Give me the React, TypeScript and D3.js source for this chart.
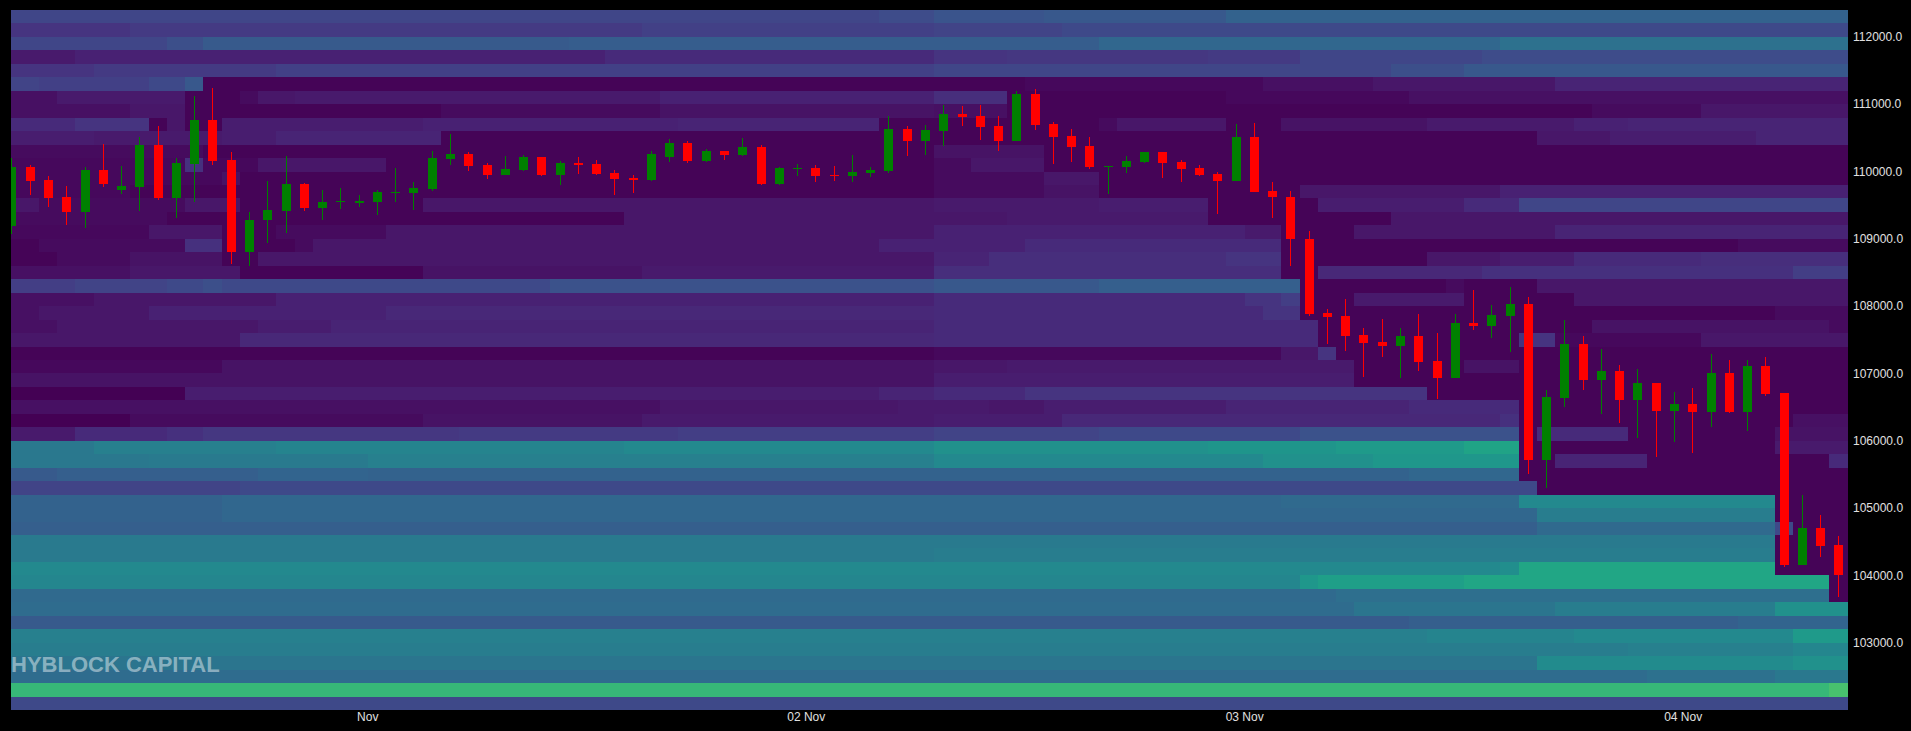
import React from "react";
import * as d3 from "d3";

// ---- time axis (hourly candles) ----
const START = "2025-10-31T04:00:00Z";
const HOURS = 101;
const xTickDays = ["2025-11-01", "2025-11-02", "2025-11-03", "2025-11-04"];

// ---- price axis ----
const PRICE_MIN = 102000;
const PRICE_MAX = 112400;
const BIN = 200;
const yTicks = [103000, 104000, 105000, 106000, 107000, 108000, 109000, 110000, 111000, 112000];

// ---- hourly OHLC ----
const candleOpen = [
  109186, 110068, 109874, 109622, 109404, 110018, 109726, 109771, 110395, 109607,
  110117, 110766, 110172, 108810, 109280, 109419, 109815, 109458, 109553, 109533,
  109548, 109681, 109681, 109741, 110191, 110261, 110102, 109954, 110023, 110216,
  109954, 110132, 110112, 109978, 109904, 109874, 110216, 110424, 110162, 110301,
  110251, 110360, 109820, 110038, 110053, 109954, 109939, 109983, 110003, 110632,
  110459, 110607, 110855, 110820, 110677, 110459, 111152, 110707, 110528, 110380,
  110068, 110072, 110147, 110291, 110147, 110053, 109969, 109865, 110513, 109716,
  109617, 108998, 107898, 107854, 107572, 107468, 107413, 107557, 107185, 106928,
  107750, 107710, 107859, 108032, 105714, 106640, 107438, 106903, 107036, 106606,
  106853, 106447, 106546, 106427, 107002, 106427, 107111, 106705, 104154, 104699,
  104452,
];
const candleHigh = [
  110201, 110100, 109929, 109781, 110068, 110409, 110082, 110508, 110677, 110201,
  111117, 111241, 110286, 109399, 109855, 110226, 109830, 109731, 109756, 109657,
  109731, 110053, 109845, 110310, 110563, 110286, 110127, 110236, 110251, 110221,
  110152, 110216, 110172, 110018, 109954, 110301, 110489, 110459, 110340, 110306,
  110498, 110400, 110068, 110112, 110102, 110078, 110251, 110063, 110820, 110682,
  110687, 110994, 110979, 110994, 110830, 111202, 111227, 110736, 110637, 110508,
  110085, 110226, 110295, 110295, 110172, 110102, 109994, 110711, 110721, 109850,
  109716, 109117, 107958, 108101, 107680, 107809, 107680, 107883, 107596, 107879,
  108240, 108017, 108290, 108131, 106754, 107794, 107557, 107358, 107126, 107066,
  106860, 106719, 106789, 107284, 107200, 107200, 107250, 106710, 105194, 104897,
  104585,
];
const candleLow = [
  109072, 109657, 109473, 109206, 109161, 109771, 109672, 109419, 109573, 109310,
  109543, 110092, 108627, 108602, 108934, 109082, 109419, 109285, 109439, 109474,
  109359, 109543, 109424, 109716, 110092, 110013, 109894, 109949, 110003, 109939,
  109805, 109969, 109954, 109647, 109682, 109855, 110142, 110127, 110142, 110177,
  110226, 109805, 109805, 109939, 109845, 109855, 109845, 109919, 109978, 110226,
  110251, 110375, 110672, 110464, 110300, 110449, 110622, 110112, 110142, 110043,
  109672, 109978, 110127, 109904, 109845, 109929, 109375, 109855, 109691, 109310,
  108602, 107858, 107438, 107339, 106952, 107240, 106938, 107042, 106616, 106928,
  107646, 107522, 107324, 105506, 105293, 106497, 106754, 106398, 106269, 106036,
  105754, 105977, 105813, 106209, 106420, 106145, 106670, 104130, 104150, 104278,
  103684,
];
const candleClose = [
  110063, 109865, 109612, 109404, 110018, 109820, 109786, 110395, 109607, 110127,
  110766, 110162, 108810, 109280, 109429, 109815, 109458, 109548, 109568, 109568,
  109701, 109696, 109751, 110201, 110261, 110087, 109954, 110038, 110216, 109954,
  110127, 110102, 109969, 109894, 109875, 110261, 110424, 110152, 110301, 110246,
  110360, 109820, 110053, 110053, 109939, 109939, 109993, 110023, 110632, 110459,
  110617, 110855, 110816, 110667, 110459, 111152, 110697, 110513, 110370, 110068,
  110082, 110157, 110291, 110127, 110043, 109954, 109865, 110513, 109701, 109617,
  108993, 107883, 107844, 107557, 107458, 107413, 107557, 107175, 106928, 107745,
  107710, 107869, 108032, 105714, 106645, 107438, 106903, 107036, 106606, 106853,
  106447, 106546, 106427, 107002, 106427, 107111, 106695, 104154, 104699, 104442,
  104006,
];

// ---- liquidation heatmap: one row per 200 USD price bin, from the top (112200-112400) down.
// each row is a run-length list of [last hourly column of the run, relative liquidation level 0-100]
const heatRows: [number, number][][] = [
  [[47, 21], [50, 23], [56, 26], [66, 27], [100, 31]],
  [[6, 15], [34, 17], [50, 19], [57, 20], [100, 22]],
  [[8, 21], [10, 24], [30, 28], [59, 29], [81, 33], [100, 37]],
  [[3, 7], [32, 9], [50, 12], [54, 15], [65, 16], [70, 17], [80, 21], [100, 23]],
  [[4, 15], [14, 17], [50, 19], [75, 21], [79, 24], [100, 27]],
  [[1, 20], [7, 19], [9, 22], [10, 27], [55, 1], [68, 2], [74, 4], [84, 6], [100, 10]],
  [[2, 4], [9, 7], [12, 1], [13, 3], [15, 6], [35, 7], [50, 9], [54, 13], [66, 1], [76, 2], [100, 4]],
  [[6, 4], [9, 6], [23, 1], [35, 3], [50, 5], [54, 4], [86, 1], [92, 3], [100, 6]],
  [[3, 12], [7, 15], [8, 1], [9, 6], [11, 1], [22, 8], [36, 9], [47, 10], [59, 1], [60, 3], [66, 6], [69, 1], [77, 5], [85, 7], [88, 9], [100, 10]],
  [[4, 8], [11, 7], [14, 8], [23, 10], [83, 1], [87, 6], [95, 8], [100, 10]],
  [[10, 3], [50, 1], [56, 5], [100, 1]],
  [[9, 2], [10, 14], [13, 2], [20, 6], [50, 1], [52, 3], [56, 6], [100, 1]],
  [[11, 2], [12, 5], [50, 1], [56, 3], [59, 6], [100, 1]],
  [[6, 2], [50, 1], [56, 3], [59, 5], [70, 1], [81, 6], [100, 9]],
  [[1, 6], [9, 3], [12, 6], [22, 1], [50, 6], [59, 7], [65, 8], [71, 1], [79, 8], [82, 12], [100, 21]],
  [[8, 3], [33, 1], [54, 6], [65, 7], [75, 1], [100, 6]],
  [[7, 2], [11, 6], [14, 1], [20, 3], [50, 6], [67, 9], [69, 7], [73, 1], [84, 6], [100, 10]],
  [[1, 1], [9, 3], [11, 14], [15, 1], [16, 3], [47, 6], [55, 9], [69, 12], [94, 1], [100, 3]],
  [[2, 1], [6, 3], [11, 5], [13, 1], [50, 6], [53, 10], [66, 13], [69, 15], [77, 1], [81, 6], [85, 8], [92, 12], [100, 13]],
  [[6, 4], [12, 6], [22, 1], [34, 5], [50, 7], [69, 13], [71, 1], [80, 11], [97, 14], [100, 18]],
  [[3, 18], [8, 20], [10, 22], [11, 24], [29, 22], [50, 25], [59, 27], [70, 30], [78, 1], [79, 3], [83, 1], [100, 6]],
  [[4, 4], [14, 6], [50, 9], [67, 12], [69, 15], [70, 18], [73, 1], [79, 7], [85, 1], [100, 6]],
  [[1, 4], [7, 6], [20, 9], [50, 11], [68, 12], [70, 15], [96, 1], [100, 3]],
  [[2, 4], [13, 6], [17, 8], [50, 10], [71, 12], [86, 1], [99, 5], [100, 3]],
  [[12, 6], [50, 11], [71, 12], [82, 1], [84, 15], [92, 2], [100, 6]],
  [[50, 1], [69, 2], [71, 6], [72, 15], [100, 1]],
  [[11, 2], [50, 5], [54, 6], [73, 7], [79, 1], [82, 5], [100, 1]],
  [[50, 5], [73, 8], [100, 1]],
  [[9, 0], [47, 8], [50, 10], [55, 12], [77, 15], [100, 1]],
  [[35, 4], [48, 6], [53, 7], [56, 6], [66, 8], [76, 10], [82, 12], [100, 1]],
  [[6, 0], [22, 3], [34, 5], [50, 7], [57, 8], [81, 11], [82, 14], [97, 1], [100, 4]],
  [[3, 7], [8, 12], [10, 14], [24, 16], [36, 17], [50, 18], [59, 20], [70, 22], [82, 25], [83, 1], [88, 12], [96, 1], [100, 5]],
  [[4, 40], [14, 43], [33, 45], [50, 47], [65, 50], [72, 52], [79, 54], [82, 58], [96, 1], [100, 7]],
  [[7, 40], [19, 41], [50, 43], [68, 47], [74, 50], [82, 53], [84, 1], [89, 10], [99, 1], [100, 12]],
  [[2, 28], [13, 30], [19, 32], [76, 31], [82, 33], [100, 1]],
  [[12, 20], [83, 22], [100, 1]],
  [[11, 31], [69, 33], [82, 34], [96, 47], [100, 1]],
  [[11, 31], [83, 33], [96, 42], [100, 1]],
  [[83, 30], [96, 34], [97, 22], [100, 1]],
  [[96, 41], [100, 1]],
  [[50, 41], [96, 42], [100, 1]],
  [[81, 47], [82, 49], [96, 59], [100, 1]],
  [[70, 46], [71, 53], [79, 56], [99, 59], [100, 1]],
  [[72, 34], [99, 36], [100, 1]],
  [[73, 35], [84, 39], [96, 42], [100, 50]],
  [[76, 28], [94, 30], [100, 32]],
  [[77, 43], [85, 45], [97, 47], [100, 54]],
  [[88, 42], [97, 43], [100, 46]],
  [[83, 39], [97, 48], [100, 50]],
  [[89, 35], [96, 37], [100, 40]],
  [[99, 67], [100, 71]],
  [[100, 22]],
];

const WATERMARK = "HYBLOCK CAPITAL";

export default function App() {
  const W = 1911;
  const H = 731;
  const plot = { left: 11, right: 1848, top: 10, bottom: 710 };
  const HOUR = 3600000;
  const t0 = new Date(START).getTime();
  const tAt = (i: number) => new Date(t0 + i * HOUR);

  const x = d3
    .scaleUtc()
    .domain([tAt(0), tAt(HOURS)])
    .range([2.36, 1847.6]);
  const y = d3.scaleLinear().domain([PRICE_MIN, PRICE_MAX]).range([plot.bottom, plot.top]);
  const color = d3.scaleSequential(d3.interpolateViridis).domain([0, 100]);

  const cells: JSX.Element[] = [];
  heatRows.forEach((segs, r) => {
    const hi = PRICE_MAX - BIN * r;
    const lo = hi - BIN;
    let start = 0;
    segs.forEach(([end, v], j) => {
      const x0 = x(tAt(start));
      const x1 = x(tAt(end + 1));
      cells.push(
        <rect
          key={`h${r}-${j}`}
          x={x0}
          y={y(hi)}
          width={x1 - x0}
          height={y(lo) - y(hi)}
          fill={color(v)}
        />
      );
      start = end + 1;
    });
  });

  const bodyW = 9;
  const candles = candleOpen.map((o, i) => {
    const c = candleClose[i];
    const hgh = candleHigh[i];
    const lw = candleLow[i];
    const cx = Math.round(x(new Date(t0 + i * HOUR + HOUR / 2))) + 0.5;
    const up = c >= o;
    const col = up ? "#008000" : "#ff0000";
    const yTop = y(Math.max(o, c));
    const yBot = y(Math.min(o, c));
    const bh = Math.max(1, yBot - yTop);
    return (
      <g key={`c${i}`}>
        <line x1={cx} x2={cx} y1={y(hgh)} y2={y(lw)} stroke={col} strokeWidth={1} />
        <rect x={cx - bodyW / 2} y={yTop} width={bodyW} height={bh} fill={col} />
      </g>
    );
  });

  const fmtY = d3.format(".1f");
  const fmtDay = (d: Date) =>
    d.getUTCDate() === 1 ? d3.utcFormat("%b")(d) : d3.utcFormat("%d %b")(d);
  const font = "'Liberation Sans', Arial, Helvetica, sans-serif";

  return (
    <div style={{ position: "absolute", left: 0, top: 0, width: W, height: H, background: "#000" }}>
      <svg width={W} height={H} style={{ display: "block" }}>
        <defs>
          <clipPath id="plotClip">
            <rect
              x={plot.left}
              y={plot.top}
              width={plot.right - plot.left}
              height={plot.bottom - plot.top}
            />
          </clipPath>
        </defs>
        <rect x={0} y={0} width={W} height={H} fill="#000" />
        <g clipPath="url(#plotClip)">
          <g shapeRendering="crispEdges">{cells}</g>
          <g shapeRendering="crispEdges">{candles}</g>
          <text
            x={plot.left}
            y={672}
            fontFamily={font}
            fontWeight="bold"
            fontSize={22}
            fill="#ffffff"
            fillOpacity={0.45}
          >
            {WATERMARK}
          </text>
        </g>
        <g fontFamily={font} fontSize={12} fill="#e0e0e0">
          {yTicks.map((p) => (
            <text key={`y${p}`} x={1853} y={y(p)} dy="0.35em">
              {fmtY(p)}
            </text>
          ))}
          {xTickDays.map((s) => {
            const d = new Date(s + "T00:00:00Z");
            return (
              <text key={`x${s}`} x={x(d)} y={721} textAnchor="middle">
                {fmtDay(d)}
              </text>
            );
          })}
        </g>
      </svg>
    </div>
  );
}
